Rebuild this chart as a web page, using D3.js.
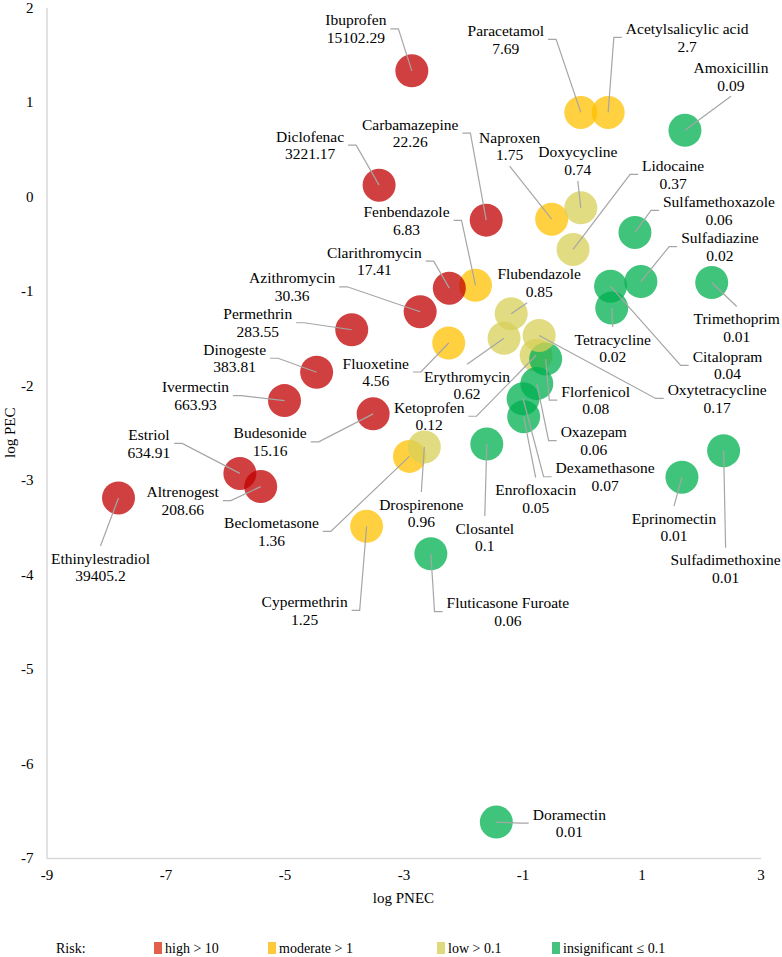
<!DOCTYPE html>
<html>
<head>
<meta charset="utf-8">
<script src="https://cdn.jsdelivr.net/npm/d3@7"></script>
<style>
  body { margin: 0; background: #fff; }
  svg text { font-family: 'Liberation Serif', 'Times New Roman', Tinos, 'DejaVu Serif', serif; fill: #000; }
</style>
</head>
<body>
<svg id="chart" width="782" height="957" font-family="Liberation Serif, DejaVu Serif, serif"></svg>
<script>
"use strict";

// compounds, log PNEC (x), log PEC (y), risk quotient label
var names = ["Ibuprofen", "Diclofenac", "Carbamazepine", "Fenbendazole", "Clarithromycin",
    "Azithromycin", "Permethrin", "Dinogeste", "Ivermectin", "Budesonide", "Estriol",
    "Altrenogest", "Ethinylestradiol", "Beclometasone", "Cypermethrin", "Fluoxetine",
    "Ketoprofen", "Erythromycin", "Drospirenone", "Closantel", "Fluticasone Furoate",
    "Enrofloxacin", "Dexamethasone", "Oxazepam", "Florfenicol", "Oxytetracycline",
    "Citalopram", "Tetracycline", "Trimethoprim", "Eprinomectin", "Sulfadimethoxine",
    "Paracetamol", "Acetylsalicylic acid", "Amoxicillin", "Naproxen", "Doxycycline",
    "Lidocaine", "Sulfamethoxazole", "Sulfadiazine", "Flubendazole", "Doramectin"];

var logPNEC = [-2.86, -3.41, -1.61, -1.79, -2.23,
    -2.72, -3.87, -4.46, -5.00, -3.51, -5.75,
    -5.40, -7.79, -2.90, -3.62, -2.24,
    -0.77, -1.31, -2.65, -1.60, -2.54,
    -0.98, -0.99, -0.76, -0.61, -0.72,
    0.48, 0.50, 2.18, 1.68, 2.38,
    -0.02, 0.44, 1.73, -0.51, -0.02,
    -0.15, 0.89, 0.99, -1.19, -1.44];

var logPEC = [1.33, 0.12, -0.25, -0.94, -0.97,
    -1.22, -1.41, -1.86, -2.16, -2.30, -2.93,
    -3.07, -3.19, -2.75, -3.49, -1.55,
    -1.68, -1.50, -2.65, -2.62, -3.78,
    -2.33, -2.14, -1.98, -1.72, -1.47,
    -0.95, -1.18, -0.91, -2.97, -2.69,
    0.89, 0.89, 0.70, -0.24, -0.12,
    -0.56, -0.38, -0.90, -1.24, -6.62];

var rq = ["15102.29", "3221.17", "22.26", "6.83", "17.41",
    "30.36", "283.55", "383.81", "663.93", "15.16", "634.91",
    "208.66", "39405.2", "1.36", "1.25", "4.56",
    "0.12", "0.62", "0.96", "0.1", "0.06",
    "0.05", "0.07", "0.06", "0.08", "0.17",
    "0.04", "0.02", "0.01", "0.01", "0.01",
    "7.69", "2.7", "0.09", "1.75", "0.74",
    "0.37", "0.06", "0.02", "0.85", "0.01"];

var xTicks = [-9, -7, -5, -3, -1, 1, 3];
var yTicks = [-7, -6, -5, -4, -3, -2, -1, 0, 1, 2];

var riskNames = ["high", "moderate", "low", "insignificant"];
var riskLegend = ["high > 10", "moderate > 1", "low > 0.1", "insignificant \u2264 0.1"];
var riskLimits = [10, 1, 0.1];

// label placement: offset of label centre from the bubble, side the leader joins
var labelPos = {
    "Ibuprofen": [-56, -42, "r"], "Diclofenac": [-69, -40, "r"], "Carbamazepine": [-76, -87, "r"],
    "Fenbendazole": [-69, -65, "r"], "Clarithromycin": [-75, -27, "r"], "Azithromycin": [-128, -25, "r"],
    "Permethrin": [-94, -7, "r"], "Dinogeste": [-82, -14, "r"], "Ivermectin": [-89, -5, "r"],
    "Budesonide": [-103, 28, "r"], "Estriol": [-91, -30, "r"], "Altrenogest": [-78, 14, "r"],
    "Ethinylestradiol": [-18, 69, "t"], "Beclometasone": [-138, 75, "r"], "Cypermethrin": [-62, 84, "r"],
    "Fluoxetine": [-73, 29, "r"], "Ketoprofen": [-107, 61, "r"], "Erythromycin": [-37, 47, "t"],
    "Drospirenone": [-3, 66, "t"], "Closantel": [-2, 93, "t"], "Fluticasone Furoate": [77, 58, "l"],
    "Enrofloxacin": [12, 82, "t"], "Dexamethasone": [82, 78, "l"], "Oxazepam": [57, 57, "l"],
    "Florfenicol": [50, 41, "l"], "Oxytetracycline": [178, 63, "l"], "Citalopram": [117, 79, "l"],
    "Tetracycline": [1, 40, "t"], "Trimethoprim": [25, 45, "t"], "Eprinomectin": [-8, 50, "t"],
    "Sulfadimethoxine": [2, 118, "t"], "Paracetamol": [-75, -73, "r"], "Acetylsalicylic acid": [79, -75, "l"],
    "Amoxicillin": [46, -54, "b"], "Naproxen": [-42, -73, "b"], "Doxycycline": [-3, -47, "b"],
    "Lidocaine": [100, -75, "l"], "Sulfamethoxazole": [84, -22, "l"], "Sulfadiazine": [79, -35, "l"],
    "Flubendazole": [28, -31, "b", -12], "Doramectin": [73, 1, "l"]
};

var fill = { high: "#c00000", moderate: "#ffc000", low: "#d7d058", insignificant: "#00b050" };
var swatch = { high: "#e0604a", moderate: "#ffca3a", low: "#e0da7c", insignificant: "#45c27e" };
var serif = "'Liberation Serif', 'Times New Roman', Tinos, 'DejaVu Serif', serif";

function riskOf(v) {
    var q = +v;
    if (q > riskLimits[0]) return "high";
    if (q > riskLimits[1]) return "moderate";
    if (q > riskLimits[2]) return "low";
    return "insignificant";
}

var data = names.map(function (n, i) {
    return { name: n, x: logPNEC[i], y: logPEC[i], rq: rq[i], risk: riskOf(rq[i]) };
});

var svg = d3.select("#chart");

var x = d3.scaleLinear().domain([-9, 3]).range([46.5, 760.5]);
var y = d3.scaleLinear().domain([-7, 2]).range([858, 7.5]);

// axes
var xAxis = svg.append("g")
    .attr("transform", "translate(0," + y(-7) + ")")
    .call(d3.axisBottom(x).tickValues(xTicks).tickSize(0).tickPadding(11).tickFormat(d3.format("d")));
var yAxis = svg.append("g")
    .attr("transform", "translate(" + x(-9) + ",0)")
    .call(d3.axisLeft(y).tickValues(yTicks).tickSize(0).tickPadding(13).tickFormat(d3.format("d")));

[xAxis, yAxis].forEach(function (a) {
    a.attr("font-family", serif).attr("font-size", 15);
    a.select(".domain").attr("stroke", "#d9d9d9").attr("stroke-width", 1.5);
    a.selectAll("text").attr("fill", "#000");
});
xAxis.selectAll("text").text(function (d) { return d < 0 ? "-" + Math.abs(d) : d; });
yAxis.selectAll("text").text(function (d) { return d < 0 ? "-" + Math.abs(d) : d; });

svg.append("text")
    .attr("x", (x(-9) + x(3)) / 2)
    .attr("y", 903)
    .attr("text-anchor", "middle")
    .attr("font-family", serif)
    .attr("font-size", 15)
    .text("log PNEC");

svg.append("text")
    .attr("transform", "translate(15," + (y(-7) + y(2)) / 2 + ") rotate(-90)")
    .attr("text-anchor", "middle")
    .attr("font-family", serif)
    .attr("font-size", 15)
    .text("log PEC");

var leaders = svg.append("g");
var bubbles = svg.append("g");
var labels = svg.append("g");

var lab = labels.selectAll("text")
    .data(data)
    .enter()
    .append("text")
    .attr("text-anchor", "middle")
    .attr("font-family", serif)
    .attr("font-size", 15.5)
    .attr("transform", function (d) {
        var p = labelPos[d.name];
        return "translate(" + (x(d.x) + p[0]) + "," + (y(d.y) + p[1]) + ")";
    });
lab.append("tspan").attr("x", 0).attr("y", -8.8).attr("dy", "0.35em").text(function (d) { return d.name; });
lab.append("tspan").attr("x", 0).attr("y", 8.8).attr("dy", "0.35em").text(function (d) { return d.rq; });

lab.each(function (d) {
    var w = 0;
    d3.select(this).selectAll("tspan").each(function () {
        w = Math.max(w, this.getComputedTextLength());
    });
    d.w = w;
});

leaders.selectAll("path")
    .data(data)
    .enter()
    .append("path")
    .attr("fill", "none")
    .attr("stroke", "#a6a6a6")
    .attr("stroke-width", 1.2)
    .attr("d", function (d) {
        var p = labelPos[d.name];
        var px = x(d.x), py = y(d.y);
        var cx = px + p[0], cy = py + p[1];
        var ax = p[3] || 0;
        if (p[2] === "r") {
            var e = cx + d.w / 2 + 4;
            return "M" + e + "," + cy + "H" + (e + 8) + "L" + px + "," + py;
        }
        if (p[2] === "l") {
            var s = cx - d.w / 2 - 4;
            return "M" + s + "," + cy + "H" + (s - 8) + "L" + px + "," + py;
        }
        if (p[2] === "t") {
            return "M" + (cx + ax) + "," + (cy - 21) + "L" + px + "," + py;
        }
        return "M" + (cx + ax) + "," + (cy + 20) + "L" + px + "," + py;
    });

bubbles.selectAll("circle")
    .data(data)
    .enter()
    .append("circle")
    .attr("cx", function (d) { return x(d.x); })
    .attr("cy", function (d) { return y(d.y); })
    .attr("r", 16.5)
    .attr("fill", function (d) { return fill[d.risk]; })
    .attr("fill-opacity", 0.75);

// leaders sit on top of the bubbles, as in the source
svg.node().appendChild(leaders.node());
svg.node().appendChild(labels.node());

// legend
var legend = svg.append("g")
    .attr("transform", "translate(0,948)")
    .attr("font-family", serif)
    .attr("font-size", 14);
legend.append("text")
    .attr("x", 56)
    .attr("dy", "0.35em")
    .text("Risk:");

var legendX = [154, 268, 437, 552];
var item = legend.selectAll("g.item")
    .data(riskNames)
    .enter()
    .append("g")
    .attr("class", "item")
    .attr("transform", function (d, i) { return "translate(" + legendX[i] + ",0)"; });
item.append("rect")
    .attr("x", 0).attr("y", -6)
    .attr("width", 8).attr("height", 12)
    .attr("fill", function (d) { return swatch[d]; });
item.append("text")
    .attr("x", 11)
    .attr("dy", "0.35em")
    .text(function (d, i) { return riskLegend[i]; });
</script>
</body>
</html>
